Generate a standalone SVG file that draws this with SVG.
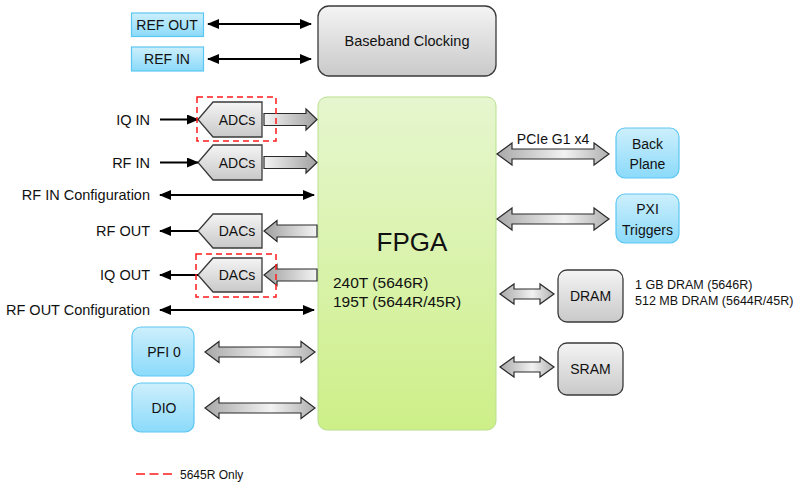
<svg xmlns="http://www.w3.org/2000/svg" width="800" height="490" viewBox="0 0 800 490">
<defs>
<linearGradient id="gBlue" x1="0" y1="0" x2="0" y2="1"><stop offset="0" stop-color="#cdeffc"/><stop offset="1" stop-color="#8bdafa"/></linearGradient>
<linearGradient id="gGrey" x1="0" y1="0" x2="0" y2="1"><stop offset="0" stop-color="#f4f4f4"/><stop offset="1" stop-color="#c9c9c9"/></linearGradient>
<linearGradient id="gGreen" x1="0" y1="0" x2="0" y2="1"><stop offset="0" stop-color="#e6f6cf"/><stop offset="1" stop-color="#cdef88"/></linearGradient>
<linearGradient id="gFat" x1="0" y1="0" x2="1" y2="0"><stop offset="0" stop-color="#a8a8a8"/><stop offset="0.6" stop-color="#f2f2f2"/><stop offset="1" stop-color="#b0b0b0"/></linearGradient>
<linearGradient id="gFatR" x1="0" y1="0" x2="1" y2="0"><stop offset="0" stop-color="#f4f4f4"/><stop offset="1" stop-color="#a0a0a0"/></linearGradient>
<linearGradient id="gFatL" x1="0" y1="0" x2="1" y2="0"><stop offset="0" stop-color="#a0a0a0"/><stop offset="1" stop-color="#f4f4f4"/></linearGradient>
<marker id="ah" markerUnits="userSpaceOnUse" markerWidth="12" markerHeight="10" refX="11" refY="5" orient="auto-start-reverse"><path d="M0,0 L12,5 L0,10 Z" fill="#000"/></marker>
</defs>
<style>
text{font-family:"Liberation Sans","DejaVu Sans",sans-serif;font-size:14px;fill:#111}
.blue{fill:url(#gBlue);stroke:#5cc6f2;stroke-width:1.2}
.grey{fill:url(#gGrey);stroke:#3a3a3a;stroke-width:1.3}
.fat{fill:url(#gFat);stroke:#2a2a2a;stroke-width:1.2}
.fatr{fill:url(#gFatR);stroke:#2a2a2a;stroke-width:1.2}
.fatl{fill:url(#gFatL);stroke:#2a2a2a;stroke-width:1.2}
.thin{stroke:#000;stroke-width:2;fill:none}
.red{fill:none;stroke:#ff1a1a;stroke-width:1.5;stroke-dasharray:6,4}
.c{text-anchor:middle}
.r{text-anchor:end}
.lbl{font-size:14.5px}
</style>

<g id="fpga">
<rect x="318" y="97" width="178" height="333" rx="9" fill="url(#gGreen)" stroke="#b8df8e" stroke-width="1"/>
<text x="412" y="251" class="c" style="font-size:26px">FPGA</text>
<text x="333" y="288" style="font-size:15.5px">240T (5646R)</text>
<text x="333" y="307" style="font-size:15.5px">195T (5644R/45R)</text>
</g>

<g id="baseband">
<rect x="318" y="6" width="178" height="70" rx="11" class="grey"/>
<text x="407" y="46" class="c lbl">Baseband Clocking</text>
</g>
<g id="refout"><rect x="131.5" y="13" width="72" height="23.5" class="blue"/><text x="167" y="30" class="c">REF OUT</text></g>
<g id="refin"><rect x="131.5" y="47" width="72" height="24" class="blue"/><text x="167" y="64" class="c">REF IN</text></g>

<g id="adc1"><path d="M198,119.5 L213,102 L262,102 L262,137 L213,137 Z" class="grey"/><text x="237" y="124.5" class="c">ADCs</text></g>
<g id="adc2"><path d="M198,162.5 L213,145 L262,145 L262,180 L213,180 Z" class="grey"/><text x="237" y="167.5" class="c">ADCs</text></g>
<g id="dac1"><path d="M198,231 L213,214 L262,214 L262,248 L213,248 Z" class="grey"/><text x="237" y="236" class="c">DACs</text></g>
<g id="dac2"><path d="M198,275 L213,258 L262,258 L262,292 L213,292 Z" class="grey"/><text x="237" y="280" class="c">DACs</text></g>

<g id="pfi0"><rect x="132" y="327" width="62" height="49" rx="9" class="blue"/><text x="164" y="357" class="c">PFI 0</text></g>
<g id="dio"><rect x="132" y="383" width="62" height="49" rx="9" class="blue"/><text x="164" y="413" class="c">DIO</text></g>

<g id="backplane"><rect x="616" y="128" width="63" height="50" rx="9" class="blue"/><text x="647.5" y="149" class="c">Back</text><text x="647.5" y="169" class="c">Plane</text></g>
<g id="pxi"><rect x="616" y="194" width="63" height="49" rx="9" class="blue"/><text x="647.5" y="214" class="c">PXI</text><text x="647.5" y="235" class="c">Triggers</text></g>
<g id="dram"><rect x="558" y="270" width="65" height="52" rx="9" class="grey"/><text x="590.5" y="301" class="c">DRAM</text></g>
<g id="sram"><rect x="558" y="343" width="65" height="52" rx="9" class="grey"/><text x="590.5" y="374" class="c">SRAM</text></g>

<g id="labels">
<text x="150" y="124.5" class="r lbl">IQ IN</text>
<text x="150" y="167.5" class="r lbl">RF IN</text>
<text x="150" y="200" class="r lbl">RF IN Configuration</text>
<text x="150" y="236" class="r lbl">RF OUT</text>
<text x="150" y="280" class="r lbl">IQ OUT</text>
<text x="150" y="315" class="r lbl">RF OUT Configuration</text>
<text x="553" y="144" class="c">PCIe G1 x4</text>
<text x="635" y="289" style="font-size:12.5px">1 GB DRAM (5646R)</text>
<text x="635" y="305" style="font-size:12.5px">512 MB DRAM (5644R/45R)</text>
</g>

<g id="connectors">
<line x1="208" y1="24" x2="311" y2="24" class="thin" marker-start="url(#ah)" marker-end="url(#ah)"/>
<line x1="208" y1="59" x2="311" y2="59" class="thin" marker-start="url(#ah)" marker-end="url(#ah)"/>
<line x1="160" y1="119.5" x2="198" y2="119.5" class="thin" marker-end="url(#ah)"/>
<line x1="160" y1="162.5" x2="198" y2="162.5" class="thin" marker-end="url(#ah)"/>
<line x1="160" y1="195" x2="314" y2="195" class="thin" marker-start="url(#ah)" marker-end="url(#ah)"/>
<line x1="198" y1="231" x2="160" y2="231" class="thin" marker-end="url(#ah)"/>
<line x1="198" y1="275" x2="160" y2="275" class="thin" marker-end="url(#ah)"/>
<line x1="160" y1="310" x2="314" y2="310" class="thin" marker-start="url(#ah)" marker-end="url(#ah)"/>
<path d="M264,113.5 L306,113.5 L306,109 L317,119.5 L306,130 L306,125.5 L264,125.5 Z" class="fatr"/>
<path d="M264,156.5 L306,156.5 L306,152 L317,162.5 L306,173 L306,168.5 L264,168.5 Z" class="fatr"/>
<path d="M317,225 L277,225 L277,220.5 L264,231 L277,241.5 L277,237 L317,237 Z" class="fatl"/>
<path d="M317,269 L277,269 L277,264.5 L264,275 L277,285.5 L277,281 L317,281 Z" class="fatl"/>
<path d="M205,352 L219,341.5 L219,347 L301,347 L301,341.5 L315,352 L301,362.5 L301,357 L219,357 L219,362.5 Z" class="fat"/>
<path d="M205,408 L219,397.5 L219,403 L301,403 L301,397.5 L315,408 L301,418.5 L301,413 L219,413 L219,418.5 Z" class="fat"/>
<path d="M497,154 L512,143 L512,149 L594,149 L594,143 L609,154 L594,165 L594,159 L512,159 L512,165 Z" class="fat"/>
<path d="M497,219 L512,208 L512,214 L594,214 L594,208 L609,219 L594,230 L594,224 L512,224 L512,230 Z" class="fat"/>
<path d="M500,294 L514,284 L514,289 L540,289 L540,284 L554,294 L540,304 L540,299 L514,299 L514,304 Z" class="fat"/>
<path d="M500,367 L514,357 L514,362 L540,362 L540,357 L554,367 L540,377 L540,372 L514,372 L514,377 Z" class="fat"/>
</g>

<g id="dashed">
<rect x="197" y="97" width="79" height="44" class="red"/>
<rect x="196" y="254" width="80" height="43" class="red"/>
</g>

<g id="legend">
<line x1="136" y1="474" x2="172" y2="474" class="red" style="stroke-dasharray:9,4.5"/>
<text x="180" y="479" style="font-size:12px">5645R Only</text>
</g>
</svg>
